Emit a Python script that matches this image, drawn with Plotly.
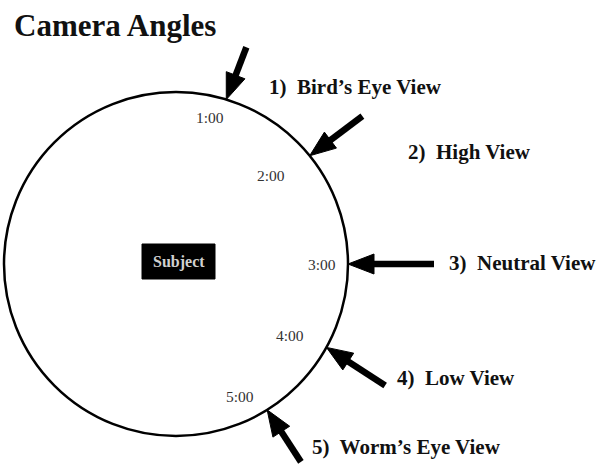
import math
import plotly.graph_objects as go

# ---- data ----
title_text = "Camera Angles"
view_labels = ["1)\u00a0 Bird\u2019s Eye View", "2)\u00a0 High View", "3)\u00a0 Neutral View",
               "4)\u00a0 Low View", "5)\u00a0 Worm\u2019s Eye View"]
clock_labels = ["1:00", "2:00", "3:00", "4:00", "5:00"]
arrow_tip_deg = [17, 51, 90, 119, 148]       # position on circle, clockwise from top
arrow_tail_deg = [21, 53, 90, 123, 147]      # direction the arrow comes from
arrow_len = [50, 60, 80, 64, 56]
clock_label_deg = [13, 47, 90, 122, 154]
clock_label_r = [150, 130, 146, 134, 147]
subject_label = "Subject"

# ---- layout constants ----
W, H = 598, 464
CX, CY, R = 176, 264, 172
label_pos = [(267, 87), (406, 152), (447, 263), (395, 378), (310, 447)]

def polar(deg, r):
    a = math.radians(deg)
    return CX + r * math.sin(a), CY - r * math.cos(a)

fig = go.Figure()
shapes = []
# circle
shapes.append(dict(type="circle", xref="x", yref="y", x0=CX - R, x1=CX + R, y0=CY - R, y1=CY + R,
                   line=dict(color="black", width=2.5), fillcolor="rgba(0,0,0,0)"))
# subject box
shapes.append(dict(type="rect", xref="x", yref="y", x0=142, x1=215, y0=244, y1=279,
                   line=dict(color="black", width=1), fillcolor="black"))

HEAD_L, HEAD_W, SHAFT = 26, 10, 6.5
for tdeg, adeg, L in zip(arrow_tip_deg, arrow_tail_deg, arrow_len):
    tx, ty = polar(tdeg, R)
    a = math.radians(adeg)
    ux, uy = math.sin(a), -math.cos(a)   # outward direction
    bx, by = tx + ux * HEAD_L, ty + uy * HEAD_L
    ex, ey = tx + ux * (HEAD_L + L - 20), ty + uy * (HEAD_L + L - 20)
    px, py = -uy, ux
    shapes.append(dict(type="line", xref="x", yref="y", x0=bx - ux * 2, y0=by - uy * 2, x1=ex, y1=ey,
                       line=dict(color="black", width=SHAFT)))
    path = (f"M{tx},{ty} L{bx + px * HEAD_W},{by + py * HEAD_W} "
            f"L{bx - px * HEAD_W},{by - py * HEAD_W} Z")
    shapes.append(dict(type="path", xref="x", yref="y", path=path,
                       line=dict(color="black", width=1), fillcolor="black"))

annotations = []
serif = "Liberation Serif, Times New Roman, serif"
annotations.append(dict(x=12, y=25, xref="x", yref="y", text=f"<b>{title_text}</b>", showarrow=False,
                        xanchor="left", yanchor="middle", font=dict(family=serif, size=31, color="#111")))
for txt, (lx, ly) in zip(view_labels, label_pos):
    annotations.append(dict(x=lx, y=ly, xref="x", yref="y", text=f"<b>{txt}</b>", showarrow=False,
                            xanchor="left", yanchor="middle", font=dict(family=serif, size=21, color="#111")))
for txt, d, r in zip(clock_labels, clock_label_deg, clock_label_r):
    x, y = polar(d, r)
    annotations.append(dict(x=x, y=y, xref="x", yref="y", text=txt, showarrow=False,
                            xanchor="center", yanchor="middle", font=dict(family=serif, size=15.5, color="#333")))
annotations.append(dict(x=178.5, y=261.5, xref="x", yref="y", text=f"<b>{subject_label}</b>", showarrow=False,
                        xanchor="center", yanchor="middle", font=dict(family=serif, size=16, color="#d0d0d0")))

fig.update_layout(
    width=W, height=H, margin=dict(l=0, r=0, t=0, b=0),
    paper_bgcolor="white", plot_bgcolor="white",
    xaxis=dict(range=[0, W], visible=False, fixedrange=True),
    yaxis=dict(range=[H, 0], visible=False, fixedrange=True),
    shapes=shapes, annotations=annotations, showlegend=False,
)
fig.write_html("out.html", config={"displayModeBar": False, "staticPlot": True},
               post_script="document.body.style.margin='0';document.body.style.overflow='hidden';")
